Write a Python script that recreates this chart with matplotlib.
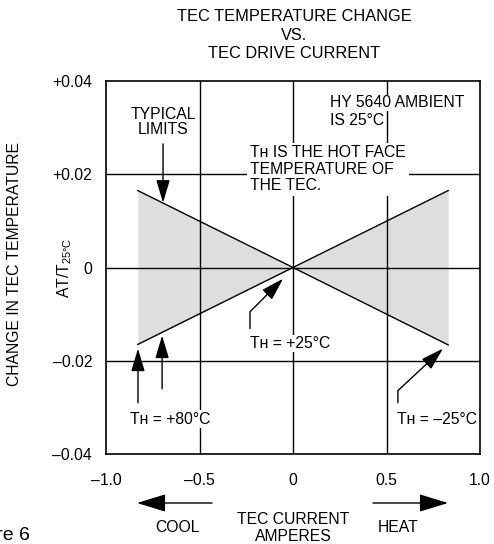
import matplotlib
matplotlib.use("Agg")
import matplotlib.pyplot as plt
import numpy as np

plt.rcParams['font.family'] = ['Liberation Sans', 'DejaVu Sans']

# data
current_amps = [-0.83, 0.0, 0.83]
limit_down = [0.0165, 0.0, -0.0166]   # line from upper left to lower right
limit_up = [-0.0165, 0.0, 0.0165]     # line from lower left to upper right
x_ticks = [-1.0, -0.5, 0.0, 0.5, 1.0]
x_tick_labels = ['\u20131.0', '\u20130.5', '0', '0.5', '1.0']
y_ticks = [-0.04, -0.02, 0.0, 0.02, 0.04]
y_tick_labels = ['\u20130.04', '\u20130.02', '0', '+0.02', '+0.04']

fig = plt.figure(figsize=(4.94, 5.44), dpi=100)
ax = fig.add_axes([106/494, 1-454/544, 374/494, 373/544])

ax.fill_between(current_amps, limit_down, limit_up, color='#dedede', lw=0, zorder=1)
ax.plot(current_amps, limit_down, color='black', lw=1, zorder=3)
ax.plot(current_amps, limit_up, color='black', lw=1, zorder=3)

# grid
for xv in x_ticks[1:-1]:
    ax.axvline(xv, color='black', lw=1, zorder=2)
for yv in y_ticks[1:-1]:
    ax.axhline(yv, color='black', lw=1, zorder=2)

fs = 11.3

ax.set_xlim(-1.0, 1.0)
ax.set_ylim(-0.04, 0.04)
ax.set_xticks(x_ticks)
ax.set_xticklabels(x_tick_labels)
ax.set_yticks(y_ticks)
ax.set_yticklabels(y_tick_labels)
ax.tick_params(length=0, labelsize=fs, colors='black')
ax.tick_params(axis='x', pad=14)
ax.tick_params(axis='y', pad=10)
for s in ax.spines.values():
    s.set_linewidth(1.2)

TH = 'T\u029c'
arrow = dict(arrowstyle='-|>,head_length=1.4,head_width=0.42', color='black',
             lw=1, shrinkA=0, shrinkB=0)

# text blocks inside the plot
ax.text(-0.695, 0.0312, 'TYPICAL\nLIMITS', ha='center', va='center', fontsize=fs,
        linespacing=1.05, zorder=5)
ax.annotate('', xy=(-0.695, 0.0139), xytext=(-0.695, 0.0265), arrowprops=arrow, zorder=5)

ax.text(0.198, 0.0353, 'HY 5640 AMBIENT', ha='left', va='center', fontsize=fs, zorder=5,
        bbox=dict(facecolor='white', edgecolor='none', pad=0.5))
ax.text(0.198, 0.0316, 'IS 25\u00b0C', ha='left', va='center', fontsize=fs, zorder=5)

ax.text(-0.23, 0.0211, TH + ' IS THE HOT FACE\nTEMPERATURE OF\nTHE TEC.', ha='left',
        va='center', fontsize=fs, linespacing=1.1, zorder=5,
        bbox=dict(facecolor='white', edgecolor='none', pad=2))

ax.text(-0.23, -0.0163, TH + ' = +25\u00b0C', ha='left', va='center', fontsize=fs, zorder=5,
        bbox=dict(facecolor='white', edgecolor='none', pad=1))
ax.annotate('', xy=(-0.053, -0.0024), xytext=(-0.23, -0.0131),
            arrowprops=dict(arrow, connectionstyle='angle,angleA=90,angleB=45,rad=0'), zorder=5)

ax.text(-0.872, -0.0325, TH + ' = +80\u00b0C', ha='left', va='center', fontsize=fs, zorder=5,
        bbox=dict(facecolor='white', edgecolor='none', pad=1))
ax.annotate('', xy=(-0.829, -0.0174), xytext=(-0.829, -0.029), arrowprops=arrow, zorder=5)
ax.annotate('', xy=(-0.70, -0.0146), xytext=(-0.70, -0.026), arrowprops=arrow, zorder=5)

ax.text(0.556, -0.0325, TH + ' = \u201325\u00b0C', ha='left', va='center', fontsize=fs, zorder=5)
ax.annotate('', xy=(0.802, -0.0174), xytext=(0.561, -0.029),
            arrowprops=dict(arrow, connectionstyle='angle,angleA=90,angleB=43,rad=0'), zorder=5)

# title and labels
fig.text(294/494, 1-35/544, 'TEC TEMPERATURE CHANGE\nVS.\nTEC DRIVE CURRENT',
         ha='center', va='center', fontsize=11.8, linespacing=1.3)
fig.text(15/494, 1-264/544, 'CHANGE IN TEC TEMPERATURE', rotation=90,
         ha='center', va='center', fontsize=fs)
fig.text(65/494, 1-268/544, 'AT/T$_{\\mathregular{25\u00b0C}}$', rotation=90,
         ha='center', va='center', fontsize=fs)

fig.text(293/494, 1-528/544, 'TEC CURRENT\nAMPERES', ha='center', va='center',
         fontsize=fs, linespacing=1.1)
fig.text(177/494, 1-527/544, 'COOL', ha='center', va='center', fontsize=fs)
fig.text(398/494, 1-527/544, 'HEAT', ha='center', va='center', fontsize=fs)
big = dict(arrowstyle='-|>,head_length=1.8,head_width=0.55', color='black', lw=1,
           shrinkA=0, shrinkB=0)
ax.annotate('', xy=(137/494, 1-503/544), xytext=(212/494, 1-503/544),
            xycoords='figure fraction', textcoords='figure fraction',
            arrowprops=big, annotation_clip=False)
ax.annotate('', xy=(448/494, 1-503/544), xytext=(373/494, 1-503/544),
            xycoords='figure fraction', textcoords='figure fraction',
            arrowprops=big, annotation_clip=False)

fig.text(30/494, 1-535/544, 'Figure 6', ha='right', va='center', fontsize=14)

fig.savefig('out.png', dpi=100)
